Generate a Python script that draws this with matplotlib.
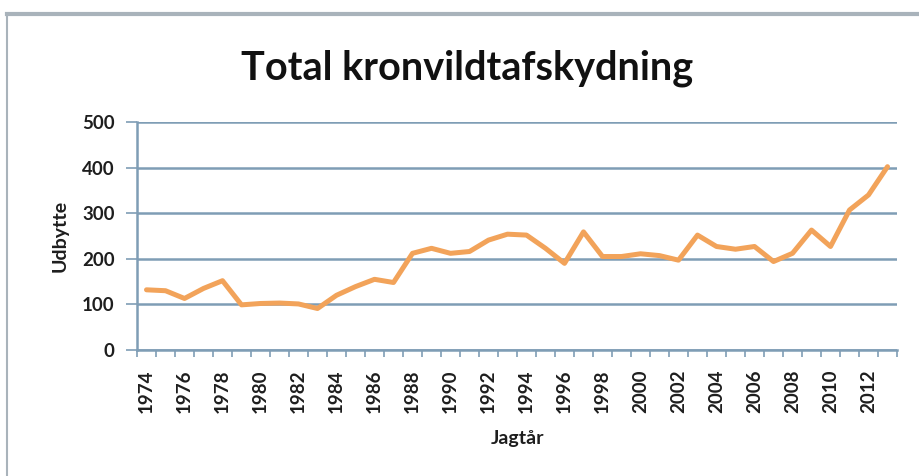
import numpy as np
import matplotlib.pyplot as plt
from matplotlib.lines import Line2D

# harvest per hunting year
years = list(range(1974, 2014))
udbytte = [132, 130, 113, 135, 152, 99, 102, 103, 101, 91,
           120, 139, 155, 148, 212, 223, 212, 216, 241, 254,
           252, 223, 190, 259, 205, 205, 211, 207, 197, 252,
           227, 221, 227, 194, 212, 263, 227, 307, 340, 402]
tick_years = list(range(1974, 2014, 2))

FONT = 'Lato'
TXT = '#1e1e1e'

W, H = 919, 476
fig = plt.figure(figsize=(W / 100, H / 100), dpi=100)
fig.patch.set_facecolor('white')

# plot area in pixels: left 137, right 897, top 122, bottom 350
ax = fig.add_axes([137 / W, 1 - 350 / H, (897 - 137) / W, (350 - 122) / H])

grid_col = '#7f9db5'
ax.plot(years, udbytte, color='#f2a35a', lw=3.6, solid_joinstyle='round',
        solid_capstyle='round', zorder=3)

ax.set_xlim(1973.5, 2013.5)
ax.set_ylim(0, 500)
ax.set_yticks([0, 100, 200, 300, 400, 500])
ax.yaxis.grid(True, color=grid_col, lw=1.8)
ax.set_axisbelow(True)

ax.set_xticks(tick_years)
ax.set_xticklabels([str(y) for y in tick_years], rotation=90)
ax.set_xticks(np.arange(1973.5, 2014, 1), minor=True)
ax.tick_params(axis='x', which='major', length=0, pad=14)
ax.tick_params(axis='x', which='minor', length=5, color=grid_col, width=1.2)
ax.tick_params(axis='y', length=8, color=grid_col, width=1.2, pad=8)

for lab in ax.get_xticklabels() + ax.get_yticklabels():
    lab.set_fontfamily(FONT)
    lab.set_fontweight('bold')
    lab.set_fontsize(13.5)
    lab.set_color(TXT)

for s in ['top', 'right']:
    ax.spines[s].set_visible(False)
ax.spines['left'].set_color(grid_col)
ax.spines['left'].set_linewidth(1.8)
ax.spines['bottom'].set_color(grid_col)
ax.spines['bottom'].set_linewidth(1.8)

ax.set_ylabel('Udbytte', fontfamily=FONT, fontweight='bold',
              fontsize=14, color=TXT, labelpad=10)
ax.set_xlabel('Jagtår', fontfamily=FONT, fontweight='bold',
              fontsize=14, color=TXT, labelpad=12)

fig.text(467 / W, 1 - 68 / H, 'Total kronvildtafskydning', ha='center',
         va='center', fontfamily=FONT, fontweight='bold',
         fontsize=28.5, color='#111111')

# outer chart frame (top and left edges visible)
fig.add_artist(Line2D([7 / W, 1], [1 - 14 / H, 1 - 14 / H], color='#a9b3bb', lw=3))
fig.add_artist(Line2D([7 / W, 7 / W], [1 - 14 / H, 0], color='#a9b3bb', lw=1.5))

fig.savefig('out.png', dpi=100)
